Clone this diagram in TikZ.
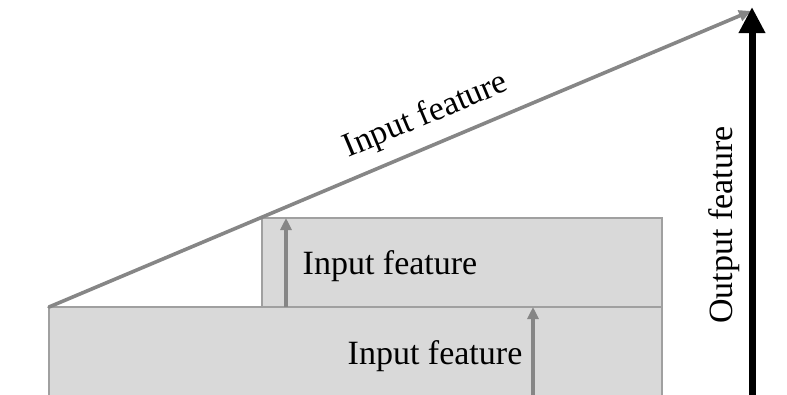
\documentclass[tikz,border=0pt]{standalone}
\usepackage{fontspec}
\setmainfont{Liberation Serif}
\usetikzlibrary{arrows.meta}
\definecolor{boxfill}{HTML}{D9D9D9}
\definecolor{boxline}{HTML}{A0A0A0}
\definecolor{arrgray}{HTML}{868686}
\begin{document}
\begin{tikzpicture}[x=1pt,y=-1pt,
  box/.style={fill=boxfill,draw=boxline,line width=2pt},
  grayarrow/.style={draw=arrgray,line width=3.6pt,-{Triangle[length=12pt,width=11pt]}},
  blackarrow/.style={draw=black,line width=7pt,-{Triangle[length=26pt,width=25pt]}},
  lbl/.style={font=\fontsize{34}{40}\selectfont,inner sep=0pt}]
\useasboundingbox (0,0) rectangle (787,394);
\fill[white] (0,0) rectangle (787,394);
% rectangles
\path[box] (49,400) -- (49,307) -- (662,307) -- (662,400);
\path[box] (262,307) rectangle (662,218);
\coordinate (lowbot) at (533,400);
\coordinate (lowtop) at (533,307);
\coordinate (upbot) at (286,307);
\coordinate (uptop) at (286,218);
\coordinate (dstart) at (49,307);
\coordinate (dend) at (751,11);
\coordinate (bbot) at (752,400);
\coordinate (btop) at (752,7);
\draw[grayarrow] (lowbot) -- (lowtop);
\draw[grayarrow] (upbot) -- (uptop);
\draw[grayarrow,line cap=round] (dstart) -- (dend);
\draw[blackarrow] (bbot) -- (btop);
\node[lbl] (t1) at (390,266) {Input feature};
\node[lbl] (t2) at (435,356) {Input feature};
\node[lbl,rotate=22.8] (t3) at (426,116) {Input feature};
\node[lbl,rotate=90] (t4) at (724,225) {Output feature};
\end{tikzpicture}
\end{document}
